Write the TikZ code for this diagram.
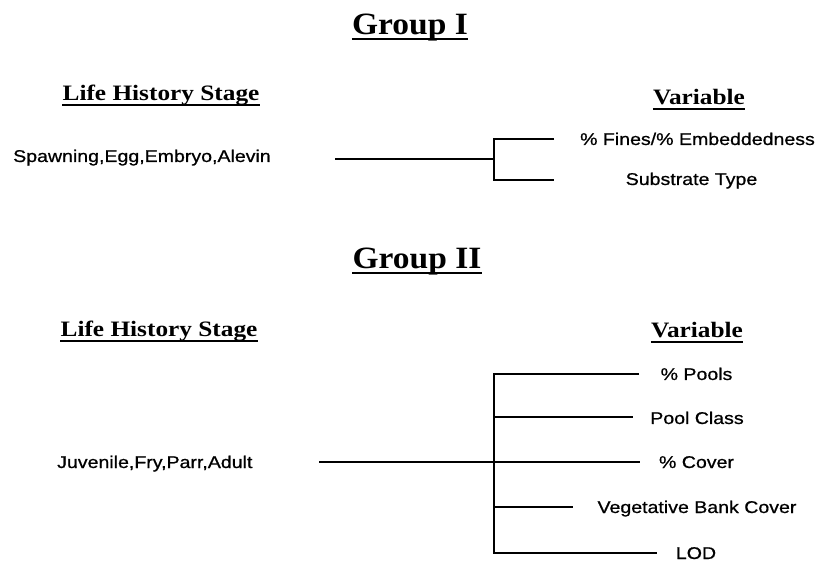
\documentclass[tikz,border=0pt]{standalone}
\usepackage{fontspec}
\newfontfamily\hdrfont[FakeStretch=1.15]{Liberation Serif}
\newfontfamily\grpfont[FakeStretch=1.08]{Liberation Serif}
\newfontfamily\lblfont[FakeStretch=1.15,FakeBold=0.8]{Liberation Sans}
\begin{document}
\begin{tikzpicture}[x=1pt,y=-1pt,
  grp/.style={inner sep=0pt,anchor=base,font=\grpfont\bfseries\fontsize{31}{34}\selectfont},
  hdr/.style={inner sep=0pt,anchor=base,font=\hdrfont\bfseries\fontsize{22}{24}\selectfont},
  lbl/.style={inner sep=0pt,anchor=base,font=\lblfont\fontsize{17}{19}\selectfont},
  uline/.style={line width=2.2pt},
  wire/.style={line width=1.4pt}]
\useasboundingbox (0,0) rectangle (820,561);
% ---------- Group I ----------
\node[grp] (g1) at (410,35) {Group I};
\node[hdr] (lh1) at (161,101) {Life History Stage};
\node[hdr] (var1) at (699,105) {Variable};
\foreach \n in {g1,lh1,var1}
  \draw[uline] ([yshift=-4pt]\n.base west) -- ([yshift=-4pt]\n.base east);
\node[lbl,anchor=base west] (sp) at (13,162) {Spawning,Egg,Embryo,Alevin};
\node[lbl] (fines) at (697.5,145) {\% Fines/\% Embeddedness};
\node[lbl] (subs) at (691.5,185) {Substrate Type};
\coordinate (s1) at (335,159);
\coordinate (j1) at (494,159);
\coordinate (j1t) at (494,139);
\coordinate (j1b) at (494,180);
\coordinate (e1t) at (554,139);
\coordinate (e1b) at (554,180);
\draw[wire] (s1) -- (j1);
\draw[wire] (e1t) -- (j1t) -- (j1b) -- (e1b);
% ---------- Group II ----------
\node[grp] (g2) at (417,269) {Group II};
\node[hdr] (lh2) at (159,337) {Life History Stage};
\node[hdr] (var2) at (697,338) {Variable};
\foreach \n in {g2,lh2,var2}
  \draw[uline] ([yshift=-4pt]\n.base west) -- ([yshift=-4pt]\n.base east);
\node[lbl,anchor=base west] (juv) at (57,468) {Juvenile,Fry,Parr,Adult};
\node[lbl] (pools) at (696.5,380) {\% Pools};
\node[lbl] (pclass) at (697,424) {Pool Class};
\node[lbl] (cover) at (696.5,468) {\% Cover};
\node[lbl] (veg) at (697,513) {Vegetative Bank Cover};
\node[lbl] (lod) at (696,559) {LOD};
\coordinate (s2) at (319,462);
\coordinate (j2) at (494,462);
\coordinate (j2a) at (494,374);
\coordinate (j2b) at (494,417);
\coordinate (j2d) at (494,507);
\coordinate (j2e) at (494,553);
\coordinate (e2a) at (639,374);
\coordinate (e2b) at (633,417);
\coordinate (e2c) at (640,462);
\coordinate (e2d) at (573,507);
\coordinate (e2e) at (657,553);
\draw[wire] (s2) -- (j2) -- (e2c);
\draw[wire] (e2a) -- (j2a) -- (j2e) -- (e2e);
\draw[wire] (j2b) -- (e2b);
\draw[wire] (j2d) -- (e2d);
\end{tikzpicture}
\end{document}
